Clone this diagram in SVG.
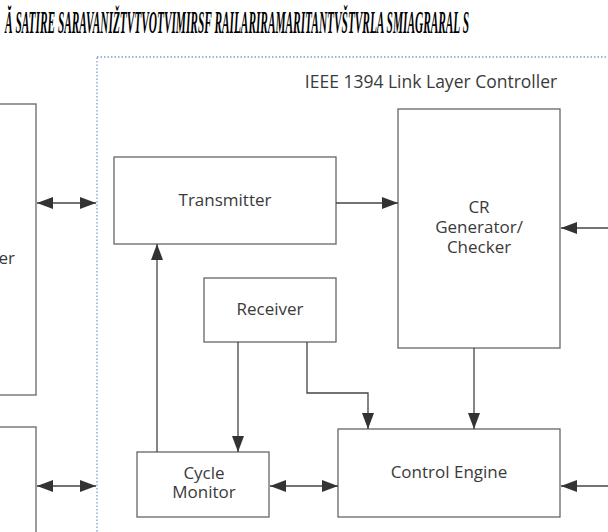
<svg xmlns="http://www.w3.org/2000/svg" width="608" height="532" viewBox="0 0 608 532">
<defs>
<marker id="ah" viewBox="0 0 16 12" refX="16" refY="6" markerWidth="16" markerHeight="12" markerUnits="userSpaceOnUse" orient="auto-start-reverse">
<path d="M0,0 L16,6 L0,12 Z" fill="#333"/>
</marker>
<style>
.box{fill:#fff;stroke:#666;stroke-width:1.3}
.lbl{font-family:"Open Sans","Liberation Sans",sans-serif;font-size:17px;fill:#3a3a3a;text-anchor:middle}
.con{fill:none;stroke:#444;stroke-width:1.3}
.garb{font-family:"Liberation Serif",serif;font-weight:bold;font-style:italic;font-size:32px;fill:#000}
</style>
</defs>
<rect width="608" height="532" fill="#fff"/>
<g id="title">
<text class="garb" x="5" y="33" textLength="464" lengthAdjust="spacingAndGlyphs">Ă SATIRE SARAVANIŽTVTVOTVIMIRSF RAILARIRAMARITANTVŠTVRLA SMIAGRARAL S</text>
</g>
<g id="controller">
<rect x="97" y="57" width="530" height="500" fill="none" stroke="#7f9fd0" stroke-width="1.3" stroke-dasharray="1.5 2"/>
<text class="lbl" x="431" y="88" style="font-size:17.5px">IEEE 1394 Link Layer Controller</text>
</g>
<g id="left-top">
<rect class="box" x="-20" y="104" width="56" height="291"/>
<text class="lbl" x="15" y="264" style="text-anchor:end">er</text>
</g>
<g id="left-bottom">
<rect class="box" x="-20" y="427" width="56" height="120"/>
</g>
<g id="transmitter">
<rect class="box" x="114" y="157" width="222" height="87"/>
<text class="lbl" x="225" y="206">Transmitter</text>
</g>
<g id="cr">
<rect class="box" x="398" y="109" width="162" height="239"/>
<text class="lbl" x="479" y="213">CR</text>
<text class="lbl" x="479" y="233">Generator/</text>
<text class="lbl" x="479" y="253">Checker</text>
</g>
<g id="receiver">
<rect class="box" x="204" y="278" width="132" height="64"/>
<text class="lbl" x="270" y="315">Receiver</text>
</g>
<g id="cycle">
<rect class="box" x="137" y="452" width="132" height="65"/>
<text class="lbl" x="204" y="479">Cycle</text>
<text class="lbl" x="204" y="498">Monitor</text>
</g>
<g id="engine">
<rect class="box" x="338" y="429" width="222" height="88"/>
<text class="lbl" x="449" y="478">Control Engine</text>
</g>
<g id="connectors">
<line class="con" x1="37" y1="203" x2="96" y2="203" marker-start="url(#ah)" marker-end="url(#ah)"/>
<line class="con" x1="37" y1="486" x2="96" y2="486" marker-start="url(#ah)" marker-end="url(#ah)"/>
<line class="con" x1="336" y1="203" x2="398" y2="203" marker-end="url(#ah)"/>
<line class="con" x1="610" y1="228" x2="561" y2="228" marker-end="url(#ah)"/>
<line class="con" x1="474" y1="348" x2="474" y2="429" marker-end="url(#ah)"/>
<line class="con" x1="238" y1="342" x2="238" y2="452" marker-end="url(#ah)"/>
<polyline class="con" points="307,342 307,393 368,393 368,429" marker-end="url(#ah)"/>
<line class="con" x1="157" y1="452" x2="157" y2="244" marker-end="url(#ah)"/>
<line class="con" x1="270" y1="486" x2="338" y2="486" marker-start="url(#ah)" marker-end="url(#ah)"/>
<line class="con" x1="610" y1="486" x2="561" y2="486" marker-end="url(#ah)"/>
</g>
</svg>
